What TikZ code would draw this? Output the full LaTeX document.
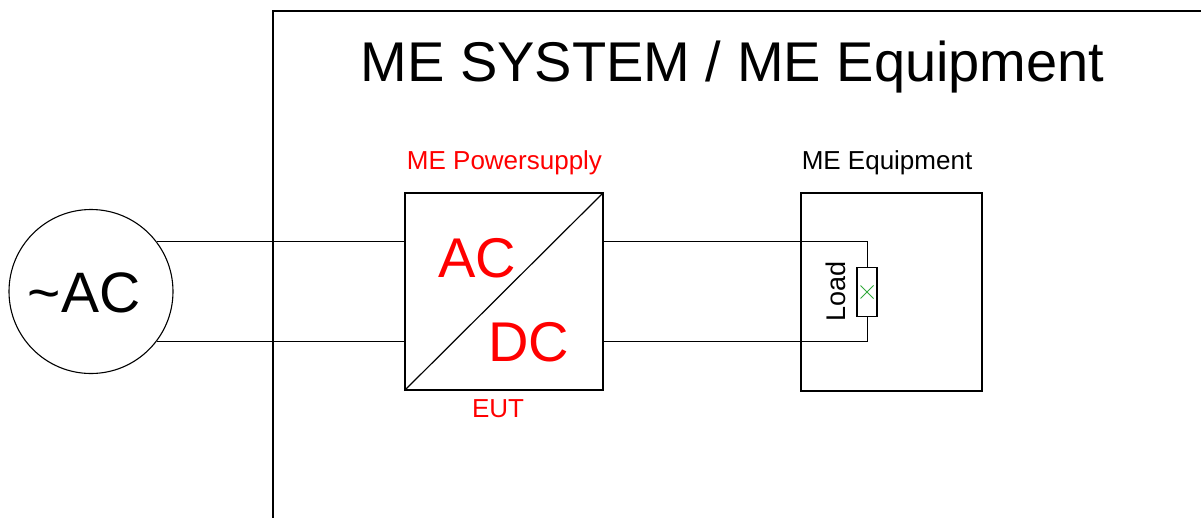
\documentclass[tikz,border=0pt]{standalone}
\usepackage{fontspec}
\setmainfont{Liberation Sans}
\usetikzlibrary{calc}
\definecolor{xgreen}{RGB}{50,170,60}
\begin{document}
\begin{tikzpicture}[x=1pt,y=-1pt,
  box/.style={draw=black,line width=1.2pt,rectangle,inner sep=0pt},
  wire/.style={draw=black,line width=1pt},
  lbl/.style={inner sep=0pt,anchor=base},
  redlbl/.style={lbl,text=red}]
\useasboundingbox (0,0) rectangle (1201,517);
\clip (0,0) rectangle (1201,517);
% frame
\coordinate (fbl) at (273,520);
\coordinate (ftl) at (273,11);
\coordinate (ftr) at (1205,11);
\draw[line width=1.2pt] (fbl) -- (ftl) -- (ftr);
\node[lbl,font=\fontsize{56}{60}\selectfont] (title) at (732.5,81) {ME SYSTEM / ME Equipment};
% AC source
\node[draw=black,line width=1.1pt,circle,minimum size=164pt,inner sep=0pt] (src) at (91,291.5) {};
\node[lbl,font=\fontsize{57}{60}\selectfont] (srctxt) at (84,312) {{\char"7E}AC};
% converter
\node[box,minimum width=198pt,minimum height=197pt] (conv) at (504,291.5) {};
\draw[line width=1.2pt] (conv.south west) -- (conv.north east);
\node[redlbl,font=\fontsize{56}{60}\selectfont] (ac) at (477.5,277.5) {AC};
\node[redlbl,font=\fontsize{56}{60}\selectfont] (dc) at (529,361) {DC};
\node[redlbl,font=\fontsize{26}{30}\selectfont] (pslbl) at (504.5,169) {ME Powersupply};
\node[redlbl,font=\fontsize{26}{30}\selectfont] (eut) at (498,417) {EUT};
% equipment
\node[box,minimum width=181pt,minimum height=198pt] (equip) at (891.5,292) {};
\node[lbl,font=\fontsize{26}{30}\selectfont] (eqlbl) at (887,169) {ME Equipment};
\node[box,minimum width=20pt,minimum height=49pt] (load) at (867,292) {};
\draw[xgreen,line width=0.9pt] ($(load.center)+(-6.5,-6.5)$) -- ($(load.center)+(6.5,6.5)$)
  ($(load.center)+(-6.5,6.5)$) -- ($(load.center)+(6.5,-6.5)$);
\node[lbl,rotate=90,font=\fontsize{27}{30}\selectfont] (loadlbl) at (845,291.7) {Load};
% wires
\draw[wire] (src.37.1) -- (src.37.1 -| conv.west);
\draw[wire] (src.-37.1) -- (src.-37.1 -| conv.west);
\draw[wire] (src.37.1 -| conv.east) -| (load.north);
\draw[wire] (src.-37.1 -| conv.east) -| (load.south);
\end{tikzpicture}
\end{document}
